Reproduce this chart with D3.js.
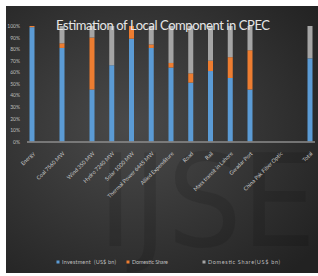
<!DOCTYPE html>
<html lang="en">
  <head>
    <title>Estimation of Local Component in CPEC</title>
    <meta charset="utf-8"/>
    <script type="text/javascript" src="https://cdn.jsdelivr.net/npm/d3@7"></script>
    <style>
     body { margin: 0; background: #fff; }
     svg { display: block; }
    </style>
  </head>
  <body>
    <script type="text/javascript">
     // data (share of each project, in %) --------------------------------------------
     let categories = ["Energy", "Coal 7560 MW", "Wind 350 MW", "Hydro 7240 MW", "Solar 1000 MW",
                       "Thermal Power 6445 MW", "Allied Expenditure", "Road", "Rail",
                       "Mass transit in Lahore", "Gwadar Port", "China Pak Fiber Optic", "Total"];
     let investment   = [99, 81, 45, 66, 89, 81, 64, 51, 61, 55, 45, 0, 72];
     let domestic     = [1, 4, 45, 0, 11, 3, 4, 8, 9, 18, 34, 0, 0];
     let domesticBn   = [0, 15, 10, 34, 0, 16, 32, 41, 30, 27, 21, 0, 28];
     let seriesNames  = ["Investment  (US$ bn)", "Domestic Share", "Domestic Share(US$ bn)"];
     let seriesColors = ["#5b9bd5", "#ed7d31", "#a5a5a5"];
     let yTicks = [0, 10, 20, 30, 40, 50, 60, 70, 80, 90, 100];

     let w = 318, h = 276;
     let svg = d3.select("body").append("svg")
		 .attr("width", w)
		 .attr("height", h);

     // dark chart background
     let grad = svg.append("defs").append("radialGradient")
		   .attr("id", "bg").attr("cx", "40%").attr("cy", "45%").attr("r", "75%");
     grad.append("stop").attr("offset", "0%").attr("stop-color", "#4a4a4a");
     grad.append("stop").attr("offset", "100%").attr("stop-color", "#222");

     svg.append("rect")
	.attr("x", 6).attr("y", 6)
	.attr("width", w - 6).attr("height", 267)
	.attr("fill", "url(#bg)");

     // faint watermark
     svg.append("text")
	.text("IJSE")
	.attr("x", 98).attr("y", 246)
	.attr("font-family", "DejaVu Sans")
	.attr("font-size", "128px")
	.attr("textLength", 218)
	.attr("lengthAdjust", "spacingAndGlyphs")
	.attr("fill", "#000")
	.attr("opacity", 0.11);

     // scales -------------------------------------------------------------------------
     // the source picture is unevenly stretched, so the index scale is piecewise
     let x = d3.scaleLinear().domain([0, 2, 10, 12]).range([32, 92, 250, 310]);
     let y = d3.scaleLinear().domain([0, 100]).range([141.5, 26]);
     let barW = 5;

     let rows = categories.map((c, i) => ({i: i, a: investment[i], b: domestic[i], c: domesticBn[i]}));
     let stack = d3.stack().keys(["a", "b", "c"])(rows);

     svg.selectAll("g.series")
	.data(stack)
	.enter()
	.append("g")
	.attr("fill", (d, i) => seriesColors[i])
	.selectAll("rect")
	.data(d => d)
	.enter()
	.append("rect")
	.attr("x", d => x(d.data.i) - barW / 2)
	.attr("y", d => y(d[1]))
	.attr("width", barW)
	.attr("height", d => y(d[0]) - y(d[1]));

     // axes ---------------------------------------------------------------------------
     let yAxis = svg.append("g")
		    .attr("transform", "translate(23,0)")
		    .call(d3.axisLeft(y).tickValues(yTicks).tickSize(0).tickFormat(d => d + "%"));
     yAxis.select(".domain").remove();
     yAxis.selectAll("text")
	  .attr("fill", "#bfbfbf")
	  .attr("font-family", "Lato")
	  .attr("font-size", "5px");

     svg.append("line")
	.attr("x1", 27).attr("x2", 315)
	.attr("y1", y(0) + 0.5).attr("y2", y(0) + 0.5)
	.attr("stroke", "#8c8c8c")
	.attr("stroke-width", 1.5);

     svg.selectAll("text.xlab")
	.data(categories)
	.enter()
	.append("text")
	.attr("class", "xlab")
	.text(d => d)
	.attr("text-anchor", "end")
	.attr("transform", (d, i) => "translate(" + (x(i) + 3) + ",154) rotate(-45)")
	.attr("fill", "#c8c8c8")
	.attr("font-family", "Lato")
	.attr("font-size", "5.5px");

     // title --------------------------------------------------------------------------
     svg.append("text")
	.text("Estimation of Local Component in CPEC")
	.attr("x", 163).attr("y", 30)
	.attr("text-anchor", "middle")
	.attr("font-family", "Lato")
	.attr("font-size", "13px")
	.attr("textLength", 214)
	.attr("fill", "#e6e6e6");

     // legend -------------------------------------------------------------------------
     let legendX = [58, 128, 204];
     let legendLen = [54, 36, 72];
     let legend = svg.selectAll("g.legend")
		     .data(seriesNames)
		     .enter()
		     .append("g")
		     .attr("transform", (d, i) => "translate(" + legendX[i] + ",262)");
     legend.append("rect")
	   .attr("x", -1.5).attr("y", -1.5)
	   .attr("width", 3).attr("height", 3)
	   .attr("fill", (d, i) => seriesColors[i]);
     legend.append("text")
	   .text(d => d)
	   .attr("x", 4)
	   .attr("y", 2)
	   .attr("textLength", (d, i) => legendLen[i])
	   .style("white-space", "pre")
	   .attr("fill", "#bfbfbf")
	   .attr("font-family", "Lato")
	   .attr("font-size", "5.5px");
    </script>
  </body>
</html>
